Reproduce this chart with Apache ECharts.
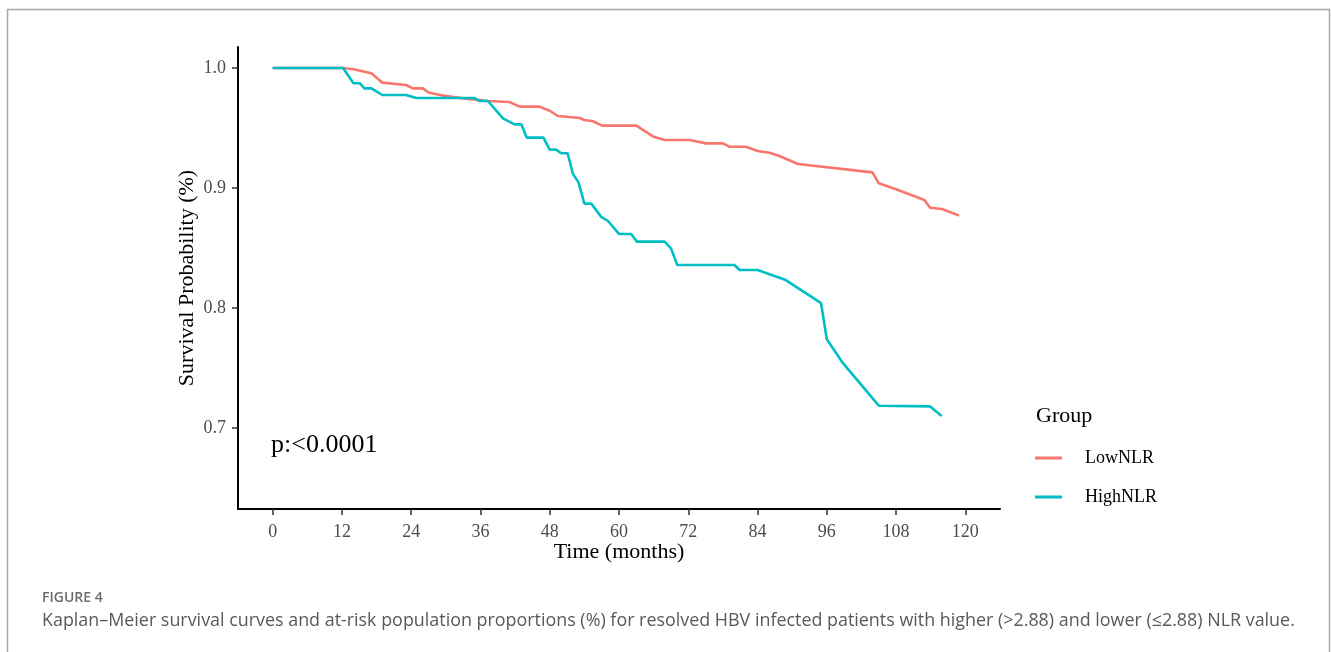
<!DOCTYPE html>
<html>
<head>
<meta charset="utf-8">
<script src="https://cdn.jsdelivr.net/npm/echarts@6/dist/echarts.min.js"></script>
<style>
html,body{margin:0;padding:0;background:#fff;}
#chart{width:1331px;height:652px;}
</style>
</head>
<body>
<div id="chart"></div>
<script>
// ---- data ----
const lowTime = [0,12.2,14.0,17.1,19.0,23.1,24.3,26.0,27.1,29.5,33.0,37.3,41.0,42.8,46.2,48.0,49.4,53.2,54.0,55.5,57.1,63.0,65.9,67.9,72.2,75.1,78.0,79.1,82.0,84.0,86.1,87.8,91.0,103.9,105.0,108.0,112.9,113.9,116.0,118.9];
const lowSurv = [1,1,0.999,0.9956,0.9878,0.9858,0.983,0.983,0.9794,0.977,0.9747,0.9725,0.9717,0.9678,0.9678,0.9644,0.96,0.9583,0.9567,0.9556,0.952,0.952,0.943,0.94,0.94,0.9372,0.9372,0.9344,0.9344,0.9308,0.9294,0.9267,0.920,0.913,0.9039,0.899,0.89,0.8836,0.8825,0.877];
const highTime = [0,12.2,14.0,15.1,15.9,17.1,19.0,23.1,24.9,35.0,35.8,37.3,39.9,41.9,43.1,44.0,46.9,48.0,49.1,50.0,51.1,52.0,53.0,54.0,55.2,56.9,58.1,60.0,62.1,63.1,67.9,69.0,70.1,80.0,80.9,84.0,88.9,95.0,96.0,98.8,105.0,113.9,115.9];
const highSurv = [1,1,0.9873,0.9873,0.983,0.983,0.9775,0.9775,0.975,0.975,0.9725,0.9725,0.958,0.953,0.953,0.942,0.942,0.932,0.932,0.929,0.929,0.912,0.9045,0.887,0.887,0.876,0.8725,0.8617,0.8617,0.8553,0.8553,0.8497,0.8358,0.8358,0.8317,0.8317,0.8233,0.804,0.774,0.754,0.7186,0.718,0.71];
const xTicks = [0,12,24,36,48,60,72,84,96,108,120];
const yTicks = [0.7,0.8,0.9,1.0];
const groupNames = ['LowNLR','HighNLR'];
const pText = 'p:<0.0001';
const figLabel = 'FIGURE 4';
const captionText = 'Kaplan\u2013Meier survival curves and at-risk population proportions (%) for resolved HBV infected patients with higher (>2.88) and lower (\u22642.88) NLR value.';

const zip = (a,b) => a.map((v,i)=>[v,b[i]]);
const serif = '"Liberation Serif","DejaVu Serif",serif';
const sans = '"Open Sans","Noto Sans",sans-serif';

const chart = echarts.init(document.getElementById('chart'));
chart.setOption({
  animation:false,
  backgroundColor:'#fff',
  grid:{left:238,right:331,top:47,bottom:143,containLabel:false},
  xAxis:{
    type:'value',min:-6,max:126,
    name:'Time (months)',nameLocation:'middle',nameGap:32,nameMoveOverlap:false,
    nameTextStyle:{fontFamily:serif,fontSize:22,color:'#000'},
    axisLine:{show:true,onZero:false,lineStyle:{color:'#000',width:2}},
    axisTick:{show:true,customValues:xTicks,length:6,lineStyle:{color:'#333',width:1.5}},
    axisLabel:{customValues:xTicks,margin:14,fontFamily:serif,fontSize:18,color:'#4d4d4d'},
    splitLine:{show:false}
  },
  yAxis:{
    type:'value',min:0.6325,max:1.0175,
    name:'Survival Probability (%)',nameLocation:'middle',nameGap:40,nameRotate:90,nameMoveOverlap:false,
    nameTextStyle:{fontFamily:serif,fontSize:22,color:'#000'},
    axisLine:{show:true,onZero:false,lineStyle:{color:'#000',width:2}},
    axisTick:{show:true,customValues:yTicks,length:6,lineStyle:{color:'#333',width:1.5}},
    axisLabel:{customValues:yTicks,margin:12,fontFamily:serif,fontSize:18,color:'#4d4d4d',
      formatter:v=>v.toFixed(1)},
    splitLine:{show:false}
  },
  title:{text:'Group',left:1031,top:400,textStyle:{fontFamily:serif,fontSize:22,fontWeight:'normal',color:'#000'}},
  legend:{
    orient:'vertical',left:1035,top:448,padding:0,itemWidth:27,itemHeight:3,itemGap:19,
    icon:'rect',
    data:groupNames,
    textStyle:{fontFamily:serif,fontSize:18,color:'#000',padding:[0,0,0,18],lineHeight:20}
  },
  series:[
    {name:groupNames[0],type:'line',data:zip(lowTime,lowSurv),showSymbol:false,symbol:'none',
     lineStyle:{color:'#F8766D',width:2.6},itemStyle:{color:'#F8766D'},z:2},
    {name:groupNames[1],type:'line',data:zip(highTime,highSurv),showSymbol:false,symbol:'none',
     lineStyle:{color:'#00BFC4',width:2.6},itemStyle:{color:'#00BFC4'},z:3}
  ],
  graphic:[
    {type:'rect',shape:{x:7.5,y:9.5,width:1322,height:700},
     style:{fill:'none',stroke:'#a8a8a8',lineWidth:1.5},silent:true,z:-1},
    {type:'text',left:271,top:432,style:{text:pText,fontFamily:serif,fontSize:26,fill:'#000'}},
    {type:'text',left:42,top:591,style:{text:figLabel,fontFamily:sans,fontSize:14,fontWeight:600,fill:'#6b6b6b'}},
    {type:'text',left:42,top:612,style:{text:captionText,fontFamily:sans,fontSize:17.9,fill:'#595959'}}
  ]
});
</script>
</body>
</html>
